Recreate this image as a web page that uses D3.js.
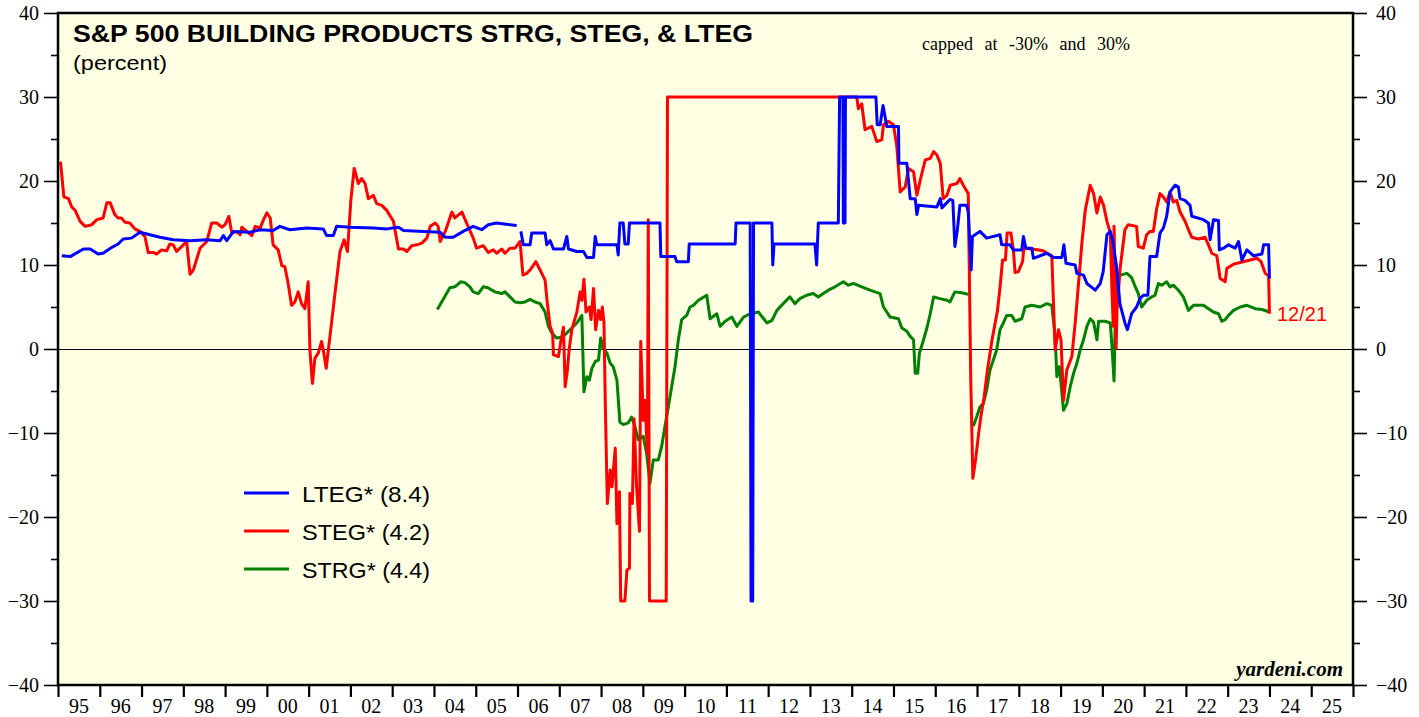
<!DOCTYPE html>
<html><head><meta charset="utf-8">
<script src="https://cdn.jsdelivr.net/npm/d3@7"></script>
<style>body{margin:0;background:#fff;} svg{display:block;}</style>
</head><body>
<svg id="chart" width="1419" height="717"></svg>
<script>
// ---------- tick labels ----------
const yearTicks = d3.range(1995, 2027);
const yearLabels = ["95","96","97","98","99","00","01","02","03","04","05","06","07","08","09","10","11","12","13","14","15","16","17","18","19","20","21","22","23","24","25"];
const yMajorTicks = [-40,-30,-20,-10,0,10,20,30,40];
const yMinorTicks = [-35,-25,-15,-5,5,15,25,35];

// ---------- LTEG (blue) ----------
const ltegDates = [1995.09,1995.29,1995.61,1995.77,1995.96,1996.08,1996.29,1996.44,1996.56,1996.76,1996.96,1997.20,1997.44,1997.76,1998.16,1998.56,1998.88,1998.96,1999.04,1999.20,1999.60,1999.84,2000.15,2000.31,2000.55,2000.95,2001.35,2001.43,2001.59,2001.67,2001.99,2002.55,2002.87,2003.15,2003.27,2003.75,2004.15,2004.27,2004.46,2004.70,2004.94,2005.14,2005.30,2005.50,2005.98,2006.03,
2006.08,2006.14,2006.30,2006.34,2006.66,2006.70,2006.78,2006.86,2007.10,2007.18,2007.22,2007.42,2007.58,2007.66,2007.82,2007.86,2007.90,2008.38,2008.41,2008.45,2008.53,2008.57,2008.65,2008.68,2009.41,2009.43,2009.77,2009.81,2010.09,2010.11,2011.21,2011.23,2011.57,2011.59,2011.63,2011.65,2012.09,2012.11,2012.14,2013.12,2013.16,2013.20,2013.68,2013.71,2013.79,2013.80,2013.84,2013.85,2014.58,2014.61,2014.68,2014.75,2014.84,2015.12,2015.13,2015.32,2015.40,2015.52,2015.56,2015.60,2016.04,2016.12,2016.16,2016.35,2016.42,2016.47,2016.53,2016.59,2016.75,2016.79,2016.86,2016.89,2017.07,2017.23,2017.55,2017.59,2017.79,2017.87,2018.07,2018.11,2018.17,2018.31,2018.35,2018.67,2018.83,2019.03,2019.08,2019.13,2019.35,2019.39,2019.55,2019.63,2019.83,2019.95,2020.02,2020.11,2020.19,2020.26,2020.35,2020.42,2020.54,2020.60,2020.70,2020.82,2020.90,2020.98,2021.09,2021.14,2021.30,2021.38,2021.46,2021.54,2021.62,2021.74,2021.82,2021.86,2021.98,2022.10,2022.14,2022.42,2022.54,2022.58,2022.66,2022.78,2022.80,2022.90,2023.02,2023.18,2023.26,2023.34,2023.46,2023.62,2023.82,2023.86,2023.98,2024.00];
const ltegValues = [11.1,11.0,11.9,11.9,11.3,11.4,12.1,12.5,13.1,13.2,13.9,13.6,13.3,13.0,12.9,13.0,12.9,13.5,12.9,14.0,13.9,14.2,14.1,14.6,14.2,14.4,14.3,13.5,13.5,14.6,14.5,14.4,14.3,14.5,14.1,14.0,13.9,13.3,13.3,14.0,14.6,14.2,14.8,15.0,14.7,null,
14.0,12.4,12.4,13.8,13.8,12.4,12.9,11.9,11.9,13.4,11.9,11.6,11.6,10.9,10.9,13.4,12.4,12.4,11.2,15.0,15.0,12.5,12.5,15.0,15.0,11.0,11.0,10.4,10.4,12.5,12.5,15.0,15.0,-30,-30,15.0,15.0,10.0,12.5,12.5,10.0,15.0,15.0,30,30,15,15,30,30,26.7,26.7,29.0,26.5,26.5,22.1,22.1,17.9,17.9,16.0,17.1,16.9,17.9,16.8,17.8,17.7,12.2,14.2,17.1,17.1,16.3,9.4,13.4,14.0,13.2,13.6,12.4,12.4,11.8,11.8,13.4,12.0,12.0,10.8,11.4,10.9,10.9,12.4,10.2,10.0,9.0,8.8,7.8,7.0,7.8,9.2,13.6,14.0,12.6,9.4,5.4,3.1,2.3,4.2,5.0,6.0,6.4,6.4,11.0,11.0,13.8,14.4,15.8,18.7,19.5,19.3,17.9,17.7,17.1,15.8,15.4,15.0,13.0,15.4,15.3,11.8,12.0,12.4,12.0,12.8,10.6,11.8,11.1,11.3,12.4,12.4,8.4];

// ---------- STEG (red) ----------
const stegDates = [1995.06,1995.14,1995.25,1995.33,1995.41,1995.53,1995.65,1995.81,1995.93,1996.08,1996.17,1996.25,1996.36,1996.44,1996.52,1996.60,1996.72,1996.84,1996.96,1997.08,1997.16,1997.28,1997.36,1997.48,1997.60,1997.68,1997.76,1997.84,1998.00,1998.08,1998.16,1998.24,1998.40,1998.56,1998.68,1998.80,1998.92,1999.00,1999.09,1999.16,1999.28,1999.36,1999.40,1999.52,1999.64,1999.72,1999.84,1999.92,2000.00,2000.08,2000.15,2000.27,2000.36,2000.43,2000.51,2000.59,2000.67,2000.75,2000.83,2000.91,2000.99,2001.03,2001.09,2001.15,2001.23,2001.31,2001.35,2001.42,2001.51,2001.63,2001.75,2001.85,2001.93,2002.01,2002.09,2002.19,2002.27,2002.35,2002.43,2002.55,2002.63,2002.75,2002.87,2003.03,2003.15,2003.27,2003.35,2003.47,2003.59,2003.71,2003.83,2003.91,2004.03,2004.10,2004.15,2004.27,2004.43,2004.50,2004.67,2004.78,2004.94,2005.02,2005.18,2005.30,2005.42,2005.50,2005.62,2005.70,2005.82,2005.94,2006.06,2006.13,2006.22,2006.30,2006.44,2006.54,2006.66,2006.71,2006.78,2006.84,2006.86,2006.98,2007.03,2007.10,2007.14,2007.19,2007.24,2007.30,2007.42,2007.50,2007.54,2007.59,2007.64,2007.72,2007.76,2007.82,2007.87,2007.94,2007.99,2008.03,2008.07,2008.10,2008.15,2008.22,2008.26,2008.34,2008.38,2008.44,2008.47,2008.57,2008.62,2008.68,2008.69,2008.75,2008.79,2008.85,2008.92,2008.95,2009.01,2009.05,2009.11,2009.13,2009.16,2009.56,2009.59,2014.12,2014.16,2014.24,2014.32,2014.48,2014.60,2014.72,2014.76,2014.88,2015.00,2015.08,2015.16,2015.28,2015.36,2015.48,2015.56,2015.64,2015.76,2015.88,2015.96,2016.04,2016.12,2016.19,2016.28,2016.36,2016.52,2016.59,2016.67,2016.79,2016.85,2016.90,2016.97,2017.03,2017.09,2017.17,2017.25,2017.36,2017.49,2017.56,2017.61,2017.68,2017.72,2017.81,2017.87,2017.91,2017.99,2018.09,2018.12,2018.33,2018.58,2018.79,2018.87,2018.95,2019.01,2019.07,2019.15,2019.27,2019.35,2019.43,2019.51,2019.59,2019.71,2019.79,2019.87,2019.95,2020.03,2020.11,2020.19,2020.23,2020.26,2020.28,2020.33,2020.35,2020.43,2020.49,2020.54,2020.62,2020.82,2020.86,2020.98,2021.06,2021.14,2021.22,2021.30,2021.38,2021.46,2021.54,2021.62,2021.70,2021.78,2021.86,2021.98,2022.06,2022.14,2022.30,2022.46,2022.54,2022.62,2022.74,2022.82,2022.94,2022.98,2023.14,2023.30,2023.54,2023.70,2023.80,2023.90,2023.98,2024.00];
const stegValues = [22.3,18.1,17.9,16.9,16.5,15.2,14.6,14.8,15.4,15.6,17.4,17.4,16.0,15.6,15.6,15.1,15.0,14.3,14.0,13.4,11.5,11.5,11.3,11.8,11.7,12.5,12.4,11.6,12.4,12.8,8.9,9.4,12.0,12.8,15.0,15.0,14.5,14.8,15.8,13.8,14.0,13.6,14.5,14.0,13.5,14.6,14.4,15.4,16.2,15.6,12.4,11.8,9.9,9.8,7.8,5.2,5.6,6.8,5.4,4.8,8.0,-0.1,-4.1,-1.1,-0.5,0.9,-0.1,-2.3,1.5,6.6,11.6,13.0,11.6,17.7,21.5,19.7,20.3,19.7,17.9,18.3,17.3,17.1,16.5,15.2,11.9,11.9,11.6,12.3,12.4,12.6,13.2,14.6,15.0,14.6,12.8,14.0,16.3,15.6,16.3,15.0,13.2,12.0,12.3,11.5,11.8,11.4,11.9,11.4,12.0,12.0,12.8,8.8,9.0,9.4,10.4,9.4,8.2,5.6,2.7,1.9,-0.7,-0.9,0.7,2.6,-4.5,-2.7,0.1,2.3,4.4,6.8,5.8,8.3,4.4,5.0,3.5,7.2,2.3,4.6,3.5,5.0,3.1,-6.1,-18.4,-14.4,-16.4,-11.8,-20.8,-17.0,-30,-30,-26.3,-26.1,-17.2,-18.4,-8.3,-16.4,-21.7,0.9,-8.5,-6.1,-12.4,15.4,-30,-30,30,30,28.6,29.2,26.1,26.5,24.7,24.9,26.7,27.1,26.7,24.1,18.7,19.3,21.5,21.1,18.3,20.1,22.5,22.7,23.5,23.1,22.1,17.9,18.3,19.5,19.7,20.3,19.5,18.5,-3.7,-15.4,-13.0,-10.4,-8.1,-5.7,-2.5,1.1,4.6,7.8,10.6,10.6,13.8,13.8,11.8,9.1,9.2,10.4,12.0,11.9,11.7,11.1,-0.1,2.3,1.1,-6.1,-2.5,-0.9,3.1,7.8,12.6,16.5,19.5,18.5,16.2,18.1,17.1,15.2,13.8,7.0,2.7,14.6,0.1,4.6,9.8,12.2,14.2,14.8,14.6,12.2,12.0,13.6,14.0,14.0,16.7,18.5,18.1,17.5,18.7,17.5,17.7,16.3,15.2,14.2,13.3,13.1,13.3,12.4,11.4,11.1,8.4,8.0,9.6,10.1,10.3,10.6,10.8,10.4,9.0,8.7,4.2];

// ---------- STRG (green) ----------
const strgDates = [2004.08,2004.38,2004.50,2004.64,2004.74,2004.86,2004.94,2005.06,2005.18,2005.29,2005.46,2005.62,2005.70,2005.82,2005.94,2006.06,2006.18,2006.30,2006.42,2006.54,2006.66,2006.74,2006.82,2006.94,2007.06,2007.18,2007.30,2007.42,2007.54,2007.59,2007.66,2007.72,2007.78,2007.86,2007.94,2007.99,2008.05,2008.14,2008.22,2008.29,2008.38,2008.45,2008.53,2008.65,2008.73,2008.81,2008.89,2009.01,2009.09,2009.17,2009.25,2009.37,2009.45,2009.53,2009.61,2009.69,2009.77,2009.85,2009.93,2010.05,2010.13,2010.21,2010.33,2010.53,2010.61,2010.77,2010.85,2010.97,2011.13,2011.25,2011.41,2011.57,2011.77,2011.97,2012.09,2012.21,2012.36,2012.52,2012.64,2012.76,2012.92,2013.08,2013.20,2013.32,2013.44,2013.60,2013.80,2013.92,2014.04,2014.24,2014.44,2014.56,2014.68,2014.76,2014.92,2015.12,2015.20,2015.32,2015.40,2015.48,2015.52,2015.58,2015.62,2015.72,2015.80,2015.88,2015.96,2016.11,2016.28,2016.35,2016.47,2016.63,2016.79,2016.85,2016.91,2016.99,2017.07,2017.15,2017.23,2017.31,2017.39,2017.47,2017.55,2017.63,2017.71,2017.83,2017.91,2018.07,2018.15,2018.31,2018.51,2018.67,2018.79,2018.87,2018.91,2018.97,2019.01,2019.07,2019.15,2019.23,2019.31,2019.39,2019.47,2019.55,2019.63,2019.71,2019.79,2019.87,2019.91,2020.07,2020.19,2020.23,2020.28,2020.33,2020.43,2020.59,2020.70,2020.79,2020.86,2020.94,2021.06,2021.18,2021.26,2021.34,2021.42,2021.54,2021.62,2021.70,2021.82,2021.94,2022.06,2022.18,2022.42,2022.54,2022.66,2022.78,2022.86,2022.94,2023.02,2023.14,2023.30,2023.46,2023.66,2023.82,2024.00];
const strgValues = [4.7,7.3,7.4,8.0,7.9,7.4,6.8,6.6,7.4,7.3,6.8,6.6,6.8,6.2,5.6,5.5,5.6,5.9,5.6,5.4,4.4,2.7,1.9,1.3,1.4,1.9,2.5,3.1,4.0,-5.1,-3.3,-3.7,-2.3,-1.5,-1.3,1.3,0.1,-0.5,-1.7,-2.1,-3.7,-8.7,-9.0,-8.8,-8.1,-9.2,-10.8,-10.4,-12.4,-16.0,-13.2,-13.2,-11.6,-9.2,-6.9,-4.5,-2.1,1.1,3.5,4.0,5.0,5.2,5.8,6.4,3.6,4.2,2.7,3.3,3.8,2.7,3.8,4.2,4.4,3.1,3.4,4.6,5.4,6.2,5.4,6.0,6.4,6.6,6.2,6.6,7.0,7.4,8.0,7.6,7.8,7.4,7.0,6.8,6.6,5.0,3.8,3.6,2.5,2.1,1.5,1.1,-2.9,-2.9,-0.5,1.1,2.5,4.2,6.2,6.0,5.8,5.6,6.8,6.7,6.5,null,-9.2,-8.1,-6.9,-6.5,-4.9,-2.5,-1.3,-0.1,2.3,3.1,4.0,4.0,3.3,3.6,5.0,5.2,5.0,5.4,5.2,1.5,-3.3,-2.1,-4.1,-7.3,-6.5,-4.5,-2.9,-1.7,-0.1,1.1,2.7,3.6,3.2,1.1,3.3,3.3,3.1,0.3,-3.8,8.6,8.8,9.0,8.5,7.4,6.6,5.0,5.8,6.2,6.4,7.8,7.6,8.0,7.4,7.6,7.0,6.2,4.6,5.2,5.2,4.8,4.4,4.2,3.3,3.5,4.0,4.6,5.0,5.2,4.8,4.7,4.4];

// ---------- legend ----------
const seriesNames = ["LTEG* (8.4)","STEG* (4.2)","STRG* (4.4)"];
const seriesColors = ["#0000ff","#ff0000","#008000"];

const svg = d3.select("#chart");
const m = {left:58, right:1353, top:13, bottom:685};

const x = d3.scaleLinear().domain([1995, 2026]).range([m.left, m.right]);
const y = d3.scaleLinear().domain([-40, 40]).range([m.bottom, m.top]);

// plot background
svg.append("rect").attr("x", m.left).attr("y", m.top)
  .attr("width", m.right - m.left).attr("height", m.bottom - m.top)
  .attr("fill", "#ffffe3");

svg.append("defs").append("clipPath").attr("id","clip")
  .append("rect").attr("x", m.left).attr("y", m.top)
  .attr("width", m.right - m.left).attr("height", m.bottom - m.top);

// zero line
svg.append("line").attr("x1", m.left).attr("x2", m.right)
  .attr("y1", y(0) + 0.5).attr("y2", y(0) + 0.5)
  .attr("stroke", "#000").attr("stroke-width", 1);

// series
const line = d3.line().defined(d => d[1] !== null).x(d => x(d[0])).y(d => y(d[1]));
const zip = (a, b) => a.map((d, i) => [d, b[i]]);
const g = svg.append("g").attr("clip-path", "url(#clip)");
const seriesData = [zip(strgDates, strgValues), zip(stegDates, stegValues), zip(ltegDates, ltegValues)];
const drawColors = ["#008000", "#ff0000", "#0000ff"];
seriesData.forEach((d, i) => {
  g.append("path").datum(d).attr("d", line)
    .attr("fill", "none").attr("stroke", drawColors[i])
    .attr("stroke-width", 3).attr("stroke-linejoin", "round");
});

// axes
const axisFont = "'Liberation Serif','Times New Roman',serif";
function styleAxis(sel) {
  sel.select(".domain").remove();
  sel.selectAll(".tick line").attr("stroke", "#000").attr("stroke-width", 1.6);
  sel.selectAll(".tick text").attr("font-family", axisFont).attr("font-size", 20).attr("fill", "#000");
}
svg.append("g").attr("transform", `translate(${m.left},0)`)
  .call(d3.axisLeft(y).tickValues(yMajorTicks).tickSize(14).tickPadding(5).tickFormat(d3.format("d")))
  .call(styleAxis);
svg.append("g").attr("transform", `translate(${m.left},0)`)
  .call(d3.axisLeft(y).tickValues(yMinorTicks).tickSize(7).tickFormat(""))
  .call(styleAxis);
svg.append("g").attr("transform", `translate(${m.right},0)`)
  .call(d3.axisRight(y).tickValues(yMajorTicks).tickSize(14).tickPadding(9).tickFormat(d3.format("d")))
  .call(styleAxis);
svg.append("g").attr("transform", `translate(${m.right},0)`)
  .call(d3.axisRight(y).tickValues(yMinorTicks).tickSize(7).tickFormat(""))
  .call(styleAxis);
svg.append("g").attr("transform", `translate(0,${m.bottom})`)
  .call(d3.axisBottom(x).tickValues(yearTicks).tickSize(12).tickFormat(""))
  .call(styleAxis)
  .call(s => s.selectAll(".tick line").attr("stroke-width", 2.2));
svg.append("g").selectAll("text").data(yearLabels).join("text")
  .attr("x", (d, i) => x(yearTicks[i] + 0.5)).attr("y", 713)
  .attr("text-anchor", "middle").attr("font-family", axisFont)
  .attr("font-size", 20).attr("fill", "#000").text(d => d);

// frame
svg.append("rect").attr("x", m.left).attr("y", m.top)
  .attr("width", m.right - m.left).attr("height", m.bottom - m.top)
  .attr("fill", "none").attr("stroke", "#000").attr("stroke-width", 2.5);

// titles
const sans = "'Liberation Sans',Arial,Helvetica,sans-serif";
svg.append("text").attr("x", 73).attr("y", 42).attr("font-family", sans)
  .attr("font-weight", "bold").attr("font-size", 24).attr("textLength", 680)
  .attr("lengthAdjust", "spacingAndGlyphs")
  .text("S&P 500 BUILDING PRODUCTS STRG, STEG, & LTEG");
svg.append("text").attr("x", 73).attr("y", 70).attr("font-family", sans)
  .attr("font-size", 21).attr("textLength", 94).attr("lengthAdjust", "spacingAndGlyphs")
  .text("(percent)");
svg.append("text").attr("x", 922).attr("y", 50).attr("font-family", axisFont)
  .attr("font-size", 18).attr("word-spacing", 7)
  .text("capped at -30% and 30%");
svg.append("text").attr("x", 1343).attr("y", 676).attr("text-anchor", "end")
  .attr("font-family", axisFont).attr("font-weight", "bold").attr("font-style", "italic")
  .attr("font-size", 21).text("yardeni.com");
svg.append("text").attr("x", 1277).attr("y", 321).attr("font-family", sans)
  .attr("font-size", 20).attr("fill", "#ff0000").text("12/21");

// legend
const lg = svg.append("g");
const legendY = [493, 531, 569];
seriesNames.forEach((name, i) => {
  lg.append("line").attr("x1", 244).attr("x2", 289).attr("y1", legendY[i]).attr("y2", legendY[i])
    .attr("stroke", seriesColors[i]).attr("stroke-width", 3);
  lg.append("text").attr("x", 302).attr("y", legendY[i] + 9).attr("font-family", sans)
    .attr("font-size", 22).attr("textLength", 128).attr("lengthAdjust", "spacingAndGlyphs")
    .text(name);
});
</script>
</body></html>
